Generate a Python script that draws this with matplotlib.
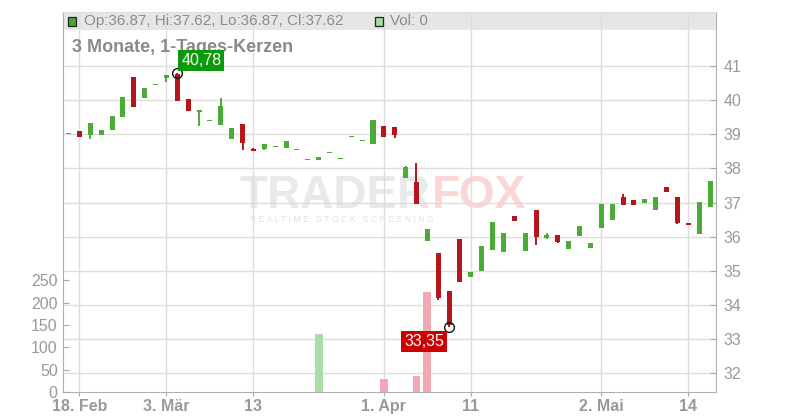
import matplotlib
matplotlib.use("Agg")
import matplotlib.pyplot as plt
from matplotlib.patches import Rectangle
import numpy as np

# ---- data ----
opens = [39.00, 39.10, 38.97, 38.98, 39.13, 39.51, 40.68, 40.06, 40.43, 40.65,
         40.76, 40.04, 39.66, 39.38, 39.28, 38.86, 39.30, 38.57, 38.57, 38.62,
         38.61, 38.53, 38.24, 38.26, 38.44, 38.27, 38.91, 38.79, 38.70, 39.25,
         39.21, 37.73, 37.61, 35.88, 35.52, 34.41, 35.93, 34.83, 35.00, 35.61,
         35.55, 36.61, 35.58, 36.78, 35.97, 36.05, 35.64, 36.02, 35.67, 36.25,
         36.49, 37.16, 37.08, 36.99, 36.78, 37.46, 37.16, 36.40, 36.08, 36.87]
highs = [39.00, 39.10, 39.33, 39.13, 39.54, 40.09, 40.68, 40.36, 40.43, 40.74,
         40.78, 40.04, 39.71, 39.38, 40.06, 39.18, 39.30, 38.60, 38.72, 38.62,
         38.80, 38.53, 38.24, 38.33, 38.44, 38.27, 38.91, 38.79, 39.42, 39.25,
         39.21, 38.07, 38.17, 36.23, 35.52, 34.41, 35.93, 34.97, 35.73, 36.43,
         36.11, 36.61, 36.11, 36.78, 36.11, 36.05, 35.87, 36.31, 35.82, 36.96,
         36.96, 37.25, 37.08, 37.10, 37.16, 37.46, 37.16, 36.40, 37.02, 37.62]
lows = [39.00, 38.92, 38.87, 38.98, 39.13, 39.51, 39.80, 40.06, 40.43, 40.54,
        39.98, 39.69, 39.25, 39.38, 39.28, 38.86, 38.54, 38.52, 38.54, 38.62,
        38.61, 38.53, 38.24, 38.26, 38.44, 38.27, 38.91, 38.79, 38.70, 38.93,
        38.90, 37.73, 36.97, 35.88, 34.15, 33.35, 34.67, 34.83, 35.00, 35.61,
        35.55, 36.46, 35.58, 35.76, 35.93, 35.82, 35.64, 36.02, 35.67, 36.25,
        36.49, 36.93, 36.93, 36.99, 36.78, 37.31, 36.37, 36.34, 36.08, 36.87]
closes = [39.00, 38.92, 39.33, 39.13, 39.54, 40.09, 39.80, 40.36, 40.43, 40.74,
          39.98, 39.69, 39.71, 39.38, 39.83, 39.18, 38.75, 38.52, 38.72, 38.62,
          38.80, 38.53, 38.24, 38.33, 38.44, 38.27, 38.91, 38.79, 39.42, 38.93,
          38.99, 38.04, 36.97, 36.23, 34.21, 33.40, 34.67, 34.97, 35.73, 36.43,
          36.11, 36.46, 36.11, 35.99, 36.05, 35.84, 35.87, 36.31, 35.82, 36.96,
          36.96, 36.93, 36.93, 37.10, 37.16, 37.31, 36.40, 36.34, 37.02, 37.62]
volumes = [0] * 60
volumes[23] = 130
volumes[29] = 28
volumes[32] = 36
volumes[33] = 223

tick_idx = [1, 9, 17, 29, 37, 49, 57]
tick_labels = ["18. Feb", "3. Mär", "13", "1. Apr", "11", "2. Mai", "14"]
price_ticks = [32, 33, 34, 35, 36, 37, 38, 39, 40, 41]
vol_ticks = [0, 50, 100, 150, 200, 250]

# ---- style ----
GREEN = "#4aab37"
RED = "#b5161b"
VGREEN = "#aadca6"
VRED = "#f0a8b1"
GRID = "#dddddd"
TXT = "#999999"
plt.rcParams["font.family"] = ["Liberation Sans", "DejaVu Sans"]

W, H = 800, 420
fig = plt.figure(figsize=(8, 4.2), dpi=100)
L, R, B, T = 63.3, 716.3, 392.0, 11.7
ax = fig.add_axes([L / W, (H - B) / H, (R - L) / W, (B - T) / H])
ax.set_axisbelow(True)

x = np.arange(len(opens))
o = np.array(opens); c = np.array(closes); h = np.array(highs); lo = np.array(lows)
up = c >= o
cols = [GREEN if u else RED for u in up]
bottom = np.minimum(o, c)
height = np.maximum(np.abs(c - o), 0.045)
ax.vlines(x, lo, h, colors=cols, linewidth=1.4, zorder=3)
ax.bar(x, height, bottom=bottom, width=0.46, color=cols, linewidth=0, zorder=4)

ax.set_xlim(-0.48, 59.57)
ax.set_ylim(31.45, 42.59)

# volume axis (created before finalising the price axis ticks)
axv = ax.twinx()

ax.yaxis.tick_right()
ax.yaxis.set_label_position("right")
ax.set_yticks(price_ticks)
ax.set_yticklabels([str(p) for p in price_ticks])
ax.set_xticks(tick_idx)
ax.set_xticklabels(tick_labels, fontweight="bold")
ax.grid(True, color=GRID, linewidth=1)
ax.tick_params(axis="y", which="both", left=False, labelleft=False, right=True,
               labelright=True, direction="in", length=4, color="#aaaaaa",
               labelsize=11.5, labelcolor=TXT, pad=5)
ax.tick_params(axis="x", direction="out", length=3, color="#aaaaaa", labelsize=11.5,
               labelcolor=TXT, pad=2)
for s in ["left", "right", "bottom"]:
    ax.spines[s].set_color("#b0b0b0")
ax.spines["top"].set_color("#dddddd")

# header band
ax.add_patch(Rectangle((0, (B - 30) / (B - T)), 1, 1 - (B - 30) / (B - T),
                       transform=ax.transAxes, facecolor="#e6e6e6", edgecolor="none",
                       zorder=0.2))
hy = 1 - ((21 - T) / (B - T))
ax.add_patch(Rectangle(((68 - L) / (R - L), 1 - (26 - T) / (B - T)), 8 / (R - L), 9 / (B - T),
                       transform=ax.transAxes, facecolor="#4aa52e", edgecolor="#222222",
                       linewidth=0.9, zorder=2))
ax.text((84 - L) / (R - L), hy,
        "Op:%.2f, Hi:%.2f, Lo:%.2f, Cl:%.2f" % (opens[-1], highs[-1], lows[-1], closes[-1]),
        transform=ax.transAxes, fontsize=11, color="#8c8c8c", va="center", ha="left", zorder=2)
ax.add_patch(Rectangle(((374.5 - L) / (R - L), 1 - (26 - T) / (B - T)), 8 / (R - L), 9 / (B - T),
                       transform=ax.transAxes, facecolor="#a8dca8", edgecolor="#222222",
                       linewidth=0.9, zorder=2))
ax.text((390 - L) / (R - L), hy, "Vol: %d" % volumes[-1], transform=ax.transAxes,
        fontsize=11, color="#8c8c8c", va="center", ha="left", zorder=2)
ax.text((72 - L) / (R - L), 1 - (47 - T) / (B - T), "3 Monate, 1-Tages-Kerzen",
        transform=ax.transAxes, fontsize=13, fontweight="bold", color="#8a8a8a",
        va="center", ha="left", zorder=2)

# watermark
wm = ax.text(240 / W, 1 - 208 / H, "TRADER", transform=fig.transFigure, fontsize=33,
             fontweight="bold", color="#e9e9e9", va="baseline", ha="left", zorder=0.1)
ax.annotate("FOX", xy=(1, 0), xycoords=wm, xytext=(1, 0), textcoords="offset pixels",
            fontsize=33, fontweight="bold", color="#fad6d6", va="bottom", ha="left",
            zorder=0.1)
ax.text(250 / W, 1 - 219 / H, "R E A L T I M E   S T O C K   S C R E E N I N G",
        transform=fig.transFigure, fontsize=6.3, color="#e2e2e2", va="center",
        ha="left", zorder=0.1)

# volume bars
axv.set_ylim(0, (B - T) / 0.447)
vcols = [VGREEN] + [VGREEN if closes[i] >= closes[i - 1] else VRED for i in range(1, len(closes))]
axv.bar(x, volumes, width=0.73, color=vcols, linewidth=0, zorder=2)
axv.set_yticks(vol_ticks)
axv.set_yticklabels([str(v) for v in vol_ticks])
axv.tick_params(axis="y", which="both", left=True, labelleft=True, right=False,
                labelright=False, direction="in", length=4, color="#aaaaaa",
                labelsize=11.5, labelcolor=TXT, pad=4)
for s in axv.spines.values():
    s.set_visible(False)
axv.set_xlim(ax.get_xlim())

# high / low markers
ih = int(np.argmax(h)); il = int(np.argmin(lo))
for xi, yi in [(ih, h[ih]), (il, lo[il])]:
    axv.plot([xi], [yi], marker="o", markersize=7, markerfacecolor="none",
             markeredgecolor="#111111", markeredgewidth=1.0, transform=ax.transData,
             zorder=6, clip_on=False)
axv.annotate(("%.2f" % h[ih]).replace(".", ","), xy=(ih, h[ih]), xycoords=ax.transData,
             xytext=(24, 13), textcoords="offset pixels", ha="center", va="center",
             fontsize=11.5, color="white", zorder=7,
             bbox=dict(boxstyle="square,pad=0.17", facecolor="#0a990a", edgecolor="none"))
axv.annotate(("%.2f" % lo[il]).replace(".", ","), xy=(il, lo[il]), xycoords=ax.transData,
             xytext=(-25, -14.5), textcoords="offset pixels", ha="center", va="center",
             fontsize=11.5, color="white", zorder=7,
             bbox=dict(boxstyle="square,pad=0.17", facecolor="#cc0000", edgecolor="none"))

fig.savefig("out.png", dpi=100)
